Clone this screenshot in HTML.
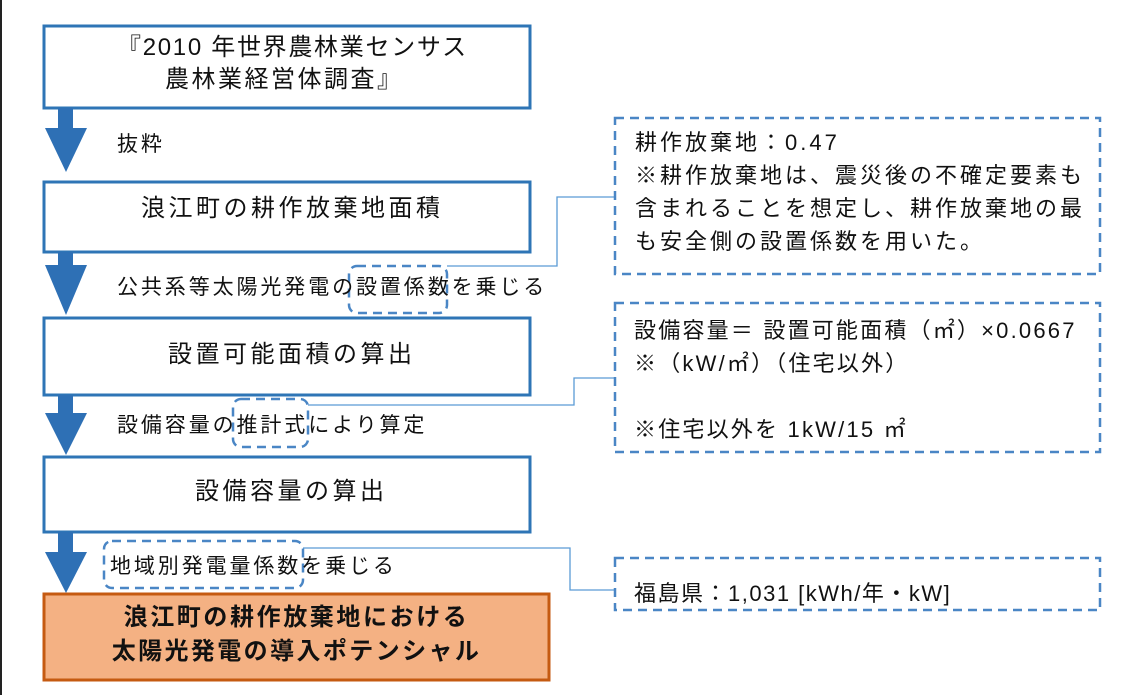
<!DOCTYPE html>
<html><head><meta charset="utf-8"><style>
html,body{margin:0;padding:0;background:#fff;width:1126px;height:695px;overflow:hidden;position:relative;font-family:"Liberation Sans","Noto Sans CJK JP",sans-serif;color:#111}
.t{position:absolute;white-space:nowrap;line-height:30px}
.m{font-size:24px;letter-spacing:3.5px}
.s{font-size:21px;letter-spacing:2.9px}
.r{font-size:22px;letter-spacing:3px;line-height:33px}
svg{position:absolute;left:0;top:0}
</style></head><body>
<svg width="1126" height="695">
<rect x="0" y="0" width="2" height="695" fill="#222"/>
<g fill="#fff" stroke="#2e75b6" stroke-width="3">
<rect x="44" y="26" width="486" height="82"/>
<rect x="44" y="182" width="486" height="70"/>
<rect x="44" y="318" width="486" height="77"/>
<rect x="44" y="457" width="486" height="75"/>
</g>
<rect x="44" y="594" width="505" height="86" fill="#f4b183" stroke="#c55a11" stroke-width="3"/>
<g fill="#2e70b5">
<rect x="58" y="108" width="15" height="21"/><polygon points="45,128 87,128 66,172"/>
<rect x="58" y="252" width="15" height="14"/><polygon points="45,265 87,265 66,315"/>
<rect x="58" y="395" width="15" height="19"/><polygon points="45,413 87,413 66,455"/>
<rect x="58" y="532" width="15" height="21"/><polygon points="45,552 87,552 66,593"/>
</g>
<g fill="none" stroke="#5b9bd5" stroke-width="1.3">
<polyline points="447,266 557,266 557,197 614,197"/>
<polyline points="308,405 574,405 574,378 614,378"/>
<polyline points="303,548 570,548 570,590 614,590"/>
</g>
<g fill="none" stroke="#4a86c5" stroke-width="2.5" stroke-dasharray="9,6">
<rect x="615" y="118" width="485" height="156"/>
<rect x="615" y="303" width="485" height="149"/>
<rect x="615" y="558" width="485" height="52"/>
<rect x="349" y="266" width="98" height="47" rx="8"/>
<rect x="233" y="399" width="75" height="48" rx="8"/>
<rect x="104" y="541" width="199" height="47" rx="8"/>
</g>
</svg>
<div class="t m" style="left:117px;top:33px;letter-spacing:1.7px">『2010 年世界農林業センサス</div>
<div class="t m" style="left:165px;top:65px;letter-spacing:2.5px">農林業経営体調査』</div>
<div class="t s" style="left:117px;top:130px">抜粋</div>
<div class="t m" style="left:141px;top:194px">浪江町の耕作放棄地面積</div>
<div class="t s" style="left:117px;top:273px">公共系等太陽光発電の設置係数を乗じる</div>
<div class="t m" style="left:168px;top:340px">設置可能面積の算出</div>
<div class="t s" style="left:117px;top:411px">設備容量の推計式により算定</div>
<div class="t m" style="left:195px;top:477px">設備容量の算出</div>
<div class="t s" style="left:110px;top:552px">地域別発電量係数を乗じる</div>
<div class="t m" style="left:44px;width:505px;text-align:center;top:603px;font-weight:bold;letter-spacing:2.6px">浪江町の耕作放棄地における</div>
<div class="t m" style="left:44px;width:505px;text-align:center;top:637px;font-weight:bold;letter-spacing:2.4px">太陽光発電の導入ポテンシャル</div>
<div class="t r" style="left:635px;top:126px">耕作放棄地：0.47<br>※耕作放棄地は、震災後の不確定要素も<br>含まれることを想定し、耕作放棄地の最<br>も安全側の設置係数を用いた。</div>
<div class="t r" style="left:634px;top:314px;letter-spacing:2.2px">設備容量＝ 設置可能面積（㎡）×0.0667<br>※（kW/㎡）（住宅以外）<br><br>※住宅以外を 1kW/15 ㎡</div>
<div class="t r" style="left:634px;top:577px;letter-spacing:1.5px">福島県：1,031 [kWh/年・kW]</div>
</body></html>
